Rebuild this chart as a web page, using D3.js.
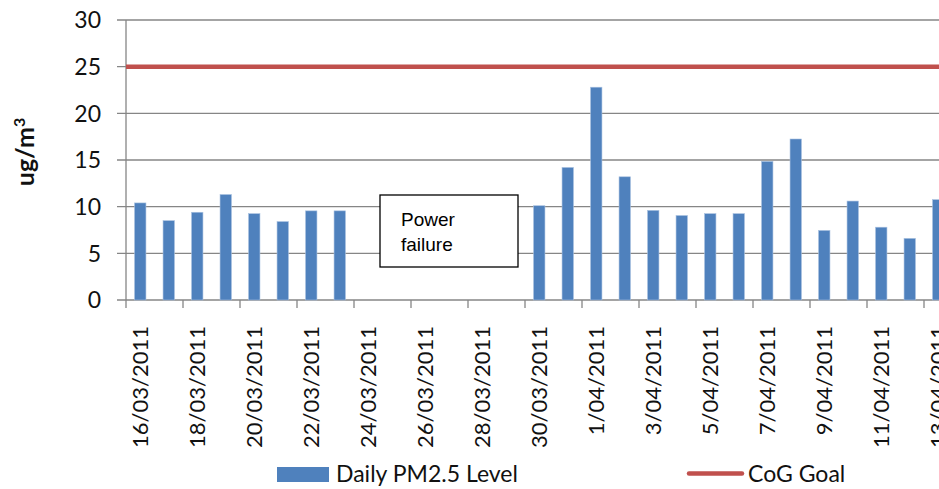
<!DOCTYPE html>
<html>
<head>
<meta charset="utf-8">
<script src="https://cdn.jsdelivr.net/npm/d3@7"></script>
<style>
  body { margin: 0; background: #fff; }
  svg { display: block; font-family: Lato, "Liberation Sans", sans-serif; }
</style>
</head>
<body>
<div id="chart"></div>
<script>
// daily dates, 16/03/2011 .. 13/04/2011
var dates = ["16/03/2011","17/03/2011","18/03/2011","19/03/2011","20/03/2011","21/03/2011","22/03/2011","23/03/2011",
  "24/03/2011","25/03/2011","26/03/2011","27/03/2011","28/03/2011","29/03/2011","30/03/2011","31/03/2011",
  "1/04/2011","2/04/2011","3/04/2011","4/04/2011","5/04/2011","6/04/2011","7/04/2011","8/04/2011",
  "9/04/2011","10/04/2011","11/04/2011","12/04/2011","13/04/2011"];
// null = no data (power failure)
var pm25 = [10.4, 8.5, 9.4, 11.3, 9.25, 8.4, 9.55, 9.55,
  null, null, null, null, null, null, 10.1, 14.2,
  22.8, 13.2, 9.6, 9.05, 9.25, 9.25, 14.85, 17.25,
  7.45, 10.6, 7.8, 6.6, 10.75];
var cogGoal = 25;
var yTicks = [0, 5, 10, 15, 20, 25, 30];

var divWidth = 939, divHeight = 489;
var margin = {top: 20, left: 126},
    plotW = 29 * 28.5,
    plotH = 280;

var svg = d3.select("#chart").append("svg").attr("width", divWidth).attr("height", divHeight);
var g = svg.append("g").attr("transform", "translate(" + margin.left + "," + margin.top + ")");

var x = d3.scaleBand().domain(dates).range([0, plotW]).paddingInner(0.6).paddingOuter(0.3);
var xc = d3.scaleBand().domain(dates).range([0, plotW]);   // full category slots
var y = d3.scaleLinear().domain([0, 30]).range([plotH, 0]);

// gridlines
g.selectAll(".grid").data(yTicks).enter().append("line")
    .attr("x1", -9).attr("x2", divWidth)
    .attr("y1", function(d) { return y(d); }).attr("y2", function(d) { return y(d); })
    .attr("stroke", "#868686").attr("stroke-width", 1.3);

// y axis labels
g.selectAll(".ylab").data(yTicks).enter().append("text")
    .attr("x", -25).attr("y", function(d) { return y(d); })
    .attr("dy", "0.36em").attr("text-anchor", "end")
    .attr("font-size", 23).attr("fill", "#111")
    .text(function(d) { return d; });

g.append("line").attr("x1", 0).attr("x2", 0).attr("y1", 0).attr("y2", plotH)
    .attr("stroke", "#868686").attr("stroke-width", 1.3);

// bars
g.selectAll(".bar").data(dates.map(function(d, i) { return {date: d, value: pm25[i]}; })
      .filter(function(d) { return d.value != null; }))
  .enter().append("rect")
    .attr("x", function(d) { return x(d.date); })
    .attr("width", x.bandwidth())
    .attr("y", function(d) { return y(d.value); })
    .attr("height", function(d) { return plotH - y(d.value); })
    .attr("fill", "#4F81BD").attr("stroke", "#A7C0E0").attr("stroke-width", 0.6);

// goal line
g.append("line")
    .attr("x1", 0).attr("x2", divWidth)
    .attr("y1", y(cogGoal)).attr("y2", y(cogGoal))
    .attr("stroke", "#C0504D").attr("stroke-width", 4.5);

// x ticks every 2 categories
var tickDates = dates.filter(function(d, i) { return i % 2 === 0; });
g.selectAll(".xtick").data(tickDates).enter().append("line")
    .attr("x1", function(d) { return xc(d); }).attr("x2", function(d) { return xc(d); })
    .attr("y1", plotH).attr("y2", plotH + 8)
    .attr("stroke", "#868686").attr("stroke-width", 1.3);

g.selectAll(".xlab").data(tickDates).enter().append("text")
    .attr("transform", function(d) {
        return "translate(" + (xc(d) + xc.bandwidth() / 2) + "," + (plotH + 26) + ") rotate(-90)";
    })
    .attr("dy", "0.36em").attr("text-anchor", "end")
    .attr("font-size", 22).attr("fill", "#111")
    .text(function(d) { return d; });

// y title
var yt = svg.append("text")
    .attr("transform", "translate(34,152) rotate(-90)")
    .attr("text-anchor", "middle")
    .attr("font-size", 25).attr("font-weight", "bold").attr("fill", "#111");
yt.append("tspan").text("ug/m");
yt.append("tspan").attr("dy", -9).attr("font-size", 16).text("3");

// power failure note
var note = svg.append("g");
note.append("rect").attr("x", 380).attr("y", 195).attr("width", 138).attr("height", 72)
    .attr("fill", "#fff").attr("stroke", "#000").attr("stroke-width", 1.3);
note.append("text").attr("x", 401).attr("y", 226)
    .attr("font-family", "Liberation Sans, Arial, sans-serif").attr("font-size", 19)
    .text("Power");
note.append("text").attr("x", 401).attr("y", 251)
    .attr("font-family", "Liberation Sans, Arial, sans-serif").attr("font-size", 19)
    .text("failure");

// legend
svg.append("rect").attr("x", 277).attr("y", 467).attr("width", 52).attr("height", 15).attr("fill", "#4F81BD");
svg.append("text").attr("x", 336).attr("y", 482).attr("font-size", 23).attr("fill", "#111").text("Daily PM2.5 Level");
svg.append("line").attr("x1", 689).attr("x2", 742).attr("y1", 473.5).attr("y2", 473.5)
    .attr("stroke", "#C0504D").attr("stroke-width", 4.5).attr("stroke-linecap", "round");
svg.append("text").attr("x", 748).attr("y", 482).attr("font-size", 23).attr("fill", "#111").text("CoG Goal");
</script>
</body>
</html>
